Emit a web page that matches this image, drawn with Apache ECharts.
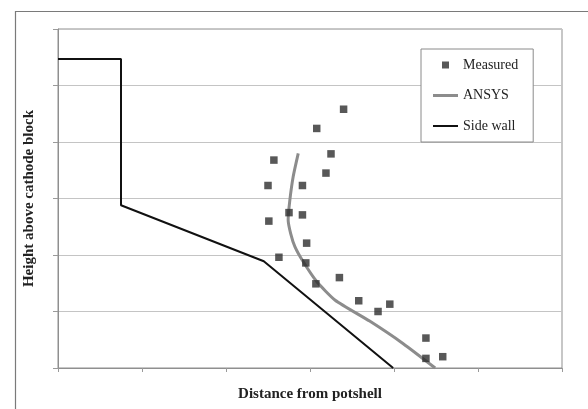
<!DOCTYPE html>
<html>
<head>
<meta charset="utf-8">
<script src="https://cdn.jsdelivr.net/npm/echarts@6/dist/echarts.min.js"></script>
<style>
html,body{margin:0;padding:0;background:#fff;}
#chart{width:588px;height:409px;}
</style>
</head>
<body>
<div id="chart"></div>
<script>
// Measured points (distance from potshell, height above cathode block) in axis units
var measuredX = [3.40, 3.08, 3.25, 2.57, 3.19, 2.50, 2.91, 2.75, 2.91, 2.51, 2.96, 2.63, 2.95, 3.35, 3.07, 3.58, 3.81, 3.95, 4.38, 4.38, 4.58];
var measuredY = [4.58, 4.24, 3.79, 3.68, 3.45, 3.23, 3.23, 2.75, 2.71, 2.60, 2.21, 1.96, 1.86, 1.60, 1.49, 1.19, 1.00, 1.13, 0.53, 0.17, 0.20];
// ANSYS simulated profile
var ansysX = [2.86, 2.80, 2.76, 2.74, 2.77, 2.82, 2.92, 3.08, 3.30, 3.71, 4.11, 4.49];
var ansysY = [3.80, 3.39, 2.97, 2.62, 2.38, 2.15, 1.88, 1.53, 1.20, 0.83, 0.43, 0.00];
// Side wall outline
var sideWallX = [0.00, 0.75, 0.75, 2.45, 3.99];
var sideWallY = [5.47, 5.47, 2.88, 1.89, 0.00];
var seriesNames = ['Measured', 'ANSYS', 'Side wall'];
var xAxisTitle = 'Distance from potshell';
var yAxisTitle = 'Height above cathode block';

function pairs(xs, ys){ return xs.map(function(x,i){ return [x, ys[i]]; }); }

var serif = '"Liberation Serif","Times New Roman",serif';
var chart = echarts.init(document.getElementById('chart'), null, {renderer:'canvas'});
chart.setOption({
  animation: false,
  backgroundColor: '#fff',
  graphic: [{
    type: 'rect', left: 13, top: 9, silent: true,
    shape: {x: 0, y: 0, width: 600, height: 420},
    style: {fill: 'none', stroke: '#7a7a7a', lineWidth: 1.2}
  }],
  grid: {left: 58, top: 29, right: 26, bottom: 41, show: true, borderColor: '#8f8f8f', borderWidth: 1},
  legend: {
    orient: 'vertical', left: 421, top: 49,
    padding: [9, 15, 9, 12],
    itemGap: 16.5, itemWidth: 25, itemHeight: 7,
    backgroundColor: '#fff',
    borderColor: '#8a8a8a', borderWidth: 1,
    textStyle: {fontFamily: serif, fontSize: 14, color: '#222'},
    data: [
      {name: seriesNames[0], icon: 'path://M0,0h1v1h-1z'},
      {name: seriesNames[1], icon: 'path://M0,0h25v3h-25z'},
      {name: seriesNames[2], icon: 'path://M0,0h25v2h-25z'}
    ]
  },
  xAxis: {
    type: 'value', min: 0, max: 6, interval: 1,
    name: xAxisTitle, nameLocation: 'middle', nameGap: 19,
    nameTextStyle: {fontFamily: serif, fontSize: 15, fontWeight: 'bold', color: '#222'},
    axisLine: {show: true, lineStyle: {color: '#8f8f8f'}},
    axisTick: {show: true, length: 4, lineStyle: {color: '#9a9a9a'}},
    axisLabel: {show: false},
    splitLine: {show: false}
  },
  yAxis: {
    type: 'value', min: 0, max: 6, interval: 1,
    name: yAxisTitle, nameLocation: 'middle', nameGap: 21.5,
    nameTextStyle: {fontFamily: serif, fontSize: 15, fontWeight: 'bold', color: '#222'},
    axisLine: {show: true, lineStyle: {color: '#8f8f8f'}},
    axisTick: {show: true, length: 5, lineStyle: {color: '#9a9a9a'}},
    axisLabel: {show: false},
    splitLine: {show: true, lineStyle: {color: '#c4c4c4', width: 1}}
  },
  series: [
    {
      name: seriesNames[0], type: 'scatter', z: 5,
      symbol: 'rect', symbolSize: 7.5,
      itemStyle: {color: '#2e2e2e'},
      data: pairs(measuredX, measuredY)
    },
    {
      name: seriesNames[1], type: 'line', z: 3,
      smooth: 0.2, symbol: 'none', showSymbol: false,
      lineStyle: {color: '#8c8c8c', width: 3},
      itemStyle: {color: '#8c8c8c'},
      data: pairs(ansysX, ansysY)
    },
    {
      name: seriesNames[2], type: 'line', z: 2,
      symbol: 'none', showSymbol: false,
      lineStyle: {color: '#111', width: 2},
      itemStyle: {color: '#111'},
      data: pairs(sideWallX, sideWallY)
    }
  ]
});
</script>
</body>
</html>
